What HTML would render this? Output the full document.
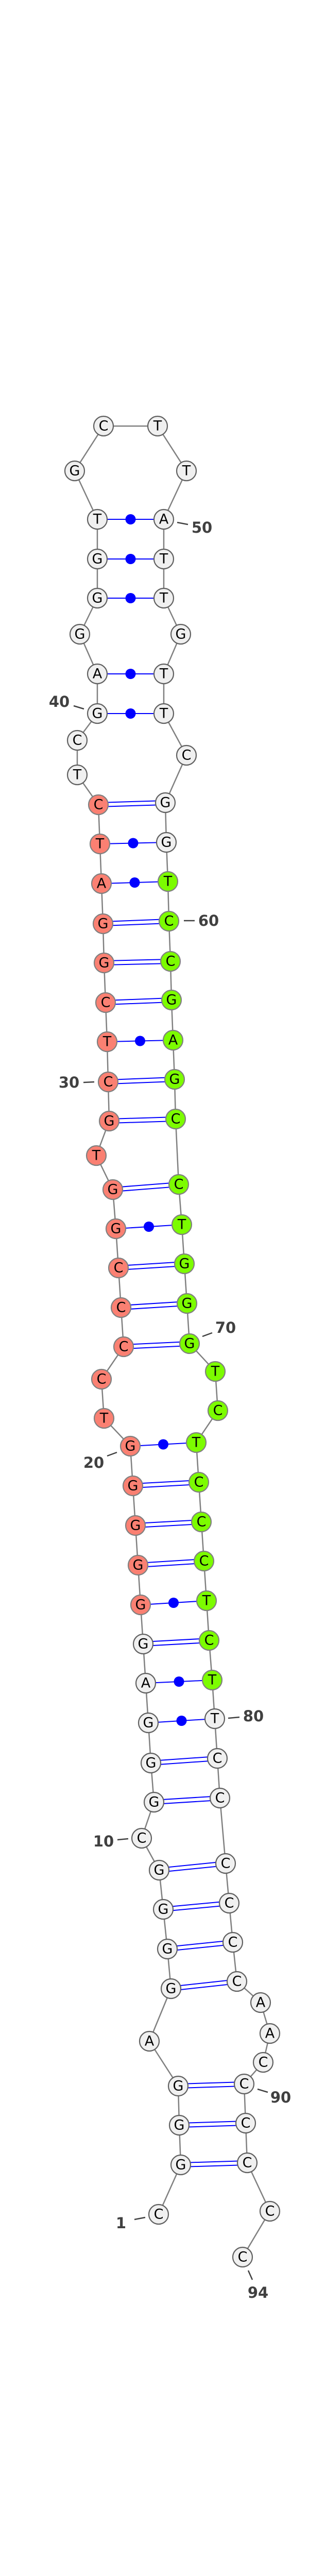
<!DOCTYPE html>
<html><head><meta charset="utf-8"><style>
html,body{margin:0;padding:0;background:#fff;width:600px;height:5157px;overflow:hidden;}
svg{display:block;}
.n circle{stroke-width:2.2;}
.w{fill:#f0f0f0;stroke:#606060;}
.r{fill:#fa8072;stroke:#808080;}
.g{fill:#7cfc00;stroke:#808080;}
.l{font-family:"DejaVu Sans","Liberation Sans",sans-serif;font-size:27px;fill:#000;text-anchor:middle;dominant-baseline:central;}
.num{font-family:"DejaVu Sans","Liberation Sans",sans-serif;font-size:29px;font-weight:bold;fill:#404040;text-anchor:middle;dominant-baseline:central;}
.tk{stroke:#404040;stroke-width:2.5;}
.bp{stroke:#0000ff;stroke-width:2;}
</style></head><body>
<svg width="600" height="5157" viewBox="0 0 600 5157" xmlns="http://www.w3.org/2000/svg">
<polyline fill="none" stroke="#808080" stroke-width="2.5" points="308,4298 351,4202 348,4125 346,4049 290,3962 332,3860 325,3783 317,3706 309,3630 275,3568 299,3498 293,3422 288,3344 283,3267 278,3191 273,3115 268,3038 263,2961 258,2884 253,2807 202,2753 197,2677 240,2614 235,2538 230,2461 225,2385 219,2309 187,2243 212,2176 210,2100 208,2022 205,1946 202,1869 200,1793 197,1715 194,1638 191,1562 150,1504 150,1437 189,1385 189,1308 155,1231 189,1161 189,1085 189,1008 145,914 201,827 306,827 362,914 318,1008 318,1085 318,1161 351,1231 318,1308 318,1385 362,1466 321,1558 323,1635 326,1711 328,1788 331,1866 333,1941 336,2019 339,2095 341,2172 347,2299 353,2377 358,2453 363,2530 368,2608 418,2662 423,2738 381,2800 386,2877 391,2954 396,3030 401,3107 406,3184 412,3261 417,3336 422,3413 427,3490 438,3617 445,3694 452,3770 460,3846 506,3887 524,3947 511,4003 474,4045 477,4121 480,4198 524,4292 471,4381"/>
<g class="bp">
<line x1="351" y1="4198" x2="480" y2="4194"/><line x1="351" y1="4206" x2="480" y2="4202"/>
<line x1="348" y1="4121" x2="477" y2="4117"/><line x1="348" y1="4129" x2="477" y2="4125"/>
<line x1="346" y1="4045" x2="474" y2="4041"/><line x1="346" y1="4053" x2="474" y2="4049"/>
<line x1="332" y1="3856" x2="460" y2="3842"/><line x1="332" y1="3864" x2="460" y2="3850"/>
<line x1="325" y1="3779" x2="452" y2="3766"/><line x1="325" y1="3787" x2="452" y2="3774"/>
<line x1="317" y1="3702" x2="445" y2="3690"/><line x1="317" y1="3710" x2="445" y2="3698"/>
<line x1="309" y1="3626" x2="438" y2="3613"/><line x1="309" y1="3634" x2="438" y2="3621"/>
<line x1="299" y1="3494" x2="427" y2="3486"/><line x1="299" y1="3502" x2="427" y2="3494"/>
<line x1="293" y1="3418" x2="422" y2="3409"/><line x1="293" y1="3426" x2="422" y2="3417"/>
<line x1="278" y1="3187" x2="406" y2="3180"/><line x1="278" y1="3195" x2="406" y2="3188"/>
<line x1="268" y1="3034" x2="396" y2="3026"/><line x1="268" y1="3042" x2="396" y2="3034"/>
<line x1="263" y1="2957" x2="391" y2="2950"/><line x1="263" y1="2965" x2="391" y2="2958"/>
<line x1="258" y1="2880" x2="386" y2="2873"/><line x1="258" y1="2888" x2="386" y2="2881"/>
<line x1="240" y1="2610" x2="368" y2="2604"/><line x1="240" y1="2618" x2="368" y2="2612"/>
<line x1="235" y1="2534" x2="363" y2="2526"/><line x1="235" y1="2542" x2="363" y2="2534"/>
<line x1="230" y1="2457" x2="358" y2="2449"/><line x1="230" y1="2465" x2="358" y2="2457"/>
<line x1="219" y1="2305" x2="347" y2="2295"/><line x1="219" y1="2313" x2="347" y2="2303"/>
<line x1="212" y1="2172" x2="341" y2="2168"/><line x1="212" y1="2180" x2="341" y2="2176"/>
<line x1="210" y1="2096" x2="339" y2="2091"/><line x1="210" y1="2104" x2="339" y2="2099"/>
<line x1="205" y1="1942" x2="333" y2="1937"/><line x1="205" y1="1950" x2="333" y2="1945"/>
<line x1="202" y1="1865" x2="331" y2="1862"/><line x1="202" y1="1873" x2="331" y2="1870"/>
<line x1="200" y1="1789" x2="328" y2="1784"/><line x1="200" y1="1797" x2="328" y2="1792"/>
<line x1="191" y1="1558" x2="321" y2="1554"/><line x1="191" y1="1566" x2="321" y2="1562"/>
<line x1="288" y1="3344" x2="417" y2="3336"/>
<line x1="283" y1="3267" x2="412" y2="3261"/>
<line x1="273" y1="3115" x2="401" y2="3107"/>
<line x1="253" y1="2807" x2="381" y2="2800"/>
<line x1="225" y1="2385" x2="353" y2="2377"/>
<line x1="208" y1="2022" x2="336" y2="2019"/>
<line x1="197" y1="1715" x2="326" y2="1711"/>
<line x1="194" y1="1638" x2="323" y2="1635"/>
<line x1="189" y1="1385" x2="318" y2="1385"/>
<line x1="189" y1="1308" x2="318" y2="1308"/>
<line x1="189" y1="1161" x2="318" y2="1161"/>
<line x1="189" y1="1085" x2="318" y2="1085"/>
<line x1="189" y1="1008" x2="318" y2="1008"/>
</g>
<g fill="#0000ff">
<circle cx="352.5" cy="3340" r="10"/>
<circle cx="347.5" cy="3264" r="10"/>
<circle cx="337" cy="3111" r="10"/>
<circle cx="317" cy="2803.5" r="10"/>
<circle cx="289" cy="2381" r="10"/>
<circle cx="272" cy="2020.5" r="10"/>
<circle cx="261.5" cy="1713" r="10"/>
<circle cx="258.5" cy="1636.5" r="10"/>
<circle cx="253.5" cy="1385" r="10"/>
<circle cx="253.5" cy="1308" r="10"/>
<circle cx="253.5" cy="1161" r="10"/>
<circle cx="253.5" cy="1085" r="10"/>
<circle cx="253.5" cy="1008" r="10"/>
</g>
<g class="n">
<circle class="w" cx="308" cy="4298" r="19"/><text class="l" x="308" y="4298">C</text>
<circle class="w" cx="351" cy="4202" r="19"/><text class="l" x="351" y="4202">G</text>
<circle class="w" cx="348" cy="4125" r="19"/><text class="l" x="348" y="4125">G</text>
<circle class="w" cx="346" cy="4049" r="19"/><text class="l" x="346" y="4049">G</text>
<circle class="w" cx="290" cy="3962" r="19"/><text class="l" x="290" y="3962">A</text>
<circle class="w" cx="332" cy="3860" r="19"/><text class="l" x="332" y="3860">G</text>
<circle class="w" cx="325" cy="3783" r="19"/><text class="l" x="325" y="3783">G</text>
<circle class="w" cx="317" cy="3706" r="19"/><text class="l" x="317" y="3706">G</text>
<circle class="w" cx="309" cy="3630" r="19"/><text class="l" x="309" y="3630">G</text>
<circle class="w" cx="275" cy="3568" r="19"/><text class="l" x="275" y="3568">C</text>
<circle class="w" cx="299" cy="3498" r="19"/><text class="l" x="299" y="3498">G</text>
<circle class="w" cx="293" cy="3422" r="19"/><text class="l" x="293" y="3422">G</text>
<circle class="w" cx="288" cy="3344" r="19"/><text class="l" x="288" y="3344">G</text>
<circle class="w" cx="283" cy="3267" r="19"/><text class="l" x="283" y="3267">A</text>
<circle class="w" cx="278" cy="3191" r="19"/><text class="l" x="278" y="3191">G</text>
<circle class="r" cx="273" cy="3115" r="19"/><text class="l" x="273" y="3115">G</text>
<circle class="r" cx="268" cy="3038" r="19"/><text class="l" x="268" y="3038">G</text>
<circle class="r" cx="263" cy="2961" r="19"/><text class="l" x="263" y="2961">G</text>
<circle class="r" cx="258" cy="2884" r="19"/><text class="l" x="258" y="2884">G</text>
<circle class="r" cx="253" cy="2807" r="19"/><text class="l" x="253" y="2807">G</text>
<circle class="r" cx="202" cy="2753" r="19"/><text class="l" x="202" y="2753">T</text>
<circle class="r" cx="197" cy="2677" r="19"/><text class="l" x="197" y="2677">C</text>
<circle class="r" cx="240" cy="2614" r="19"/><text class="l" x="240" y="2614">C</text>
<circle class="r" cx="235" cy="2538" r="19"/><text class="l" x="235" y="2538">C</text>
<circle class="r" cx="230" cy="2461" r="19"/><text class="l" x="230" y="2461">C</text>
<circle class="r" cx="225" cy="2385" r="19"/><text class="l" x="225" y="2385">G</text>
<circle class="r" cx="219" cy="2309" r="19"/><text class="l" x="219" y="2309">G</text>
<circle class="r" cx="187" cy="2243" r="19"/><text class="l" x="187" y="2243">T</text>
<circle class="r" cx="212" cy="2176" r="19"/><text class="l" x="212" y="2176">G</text>
<circle class="r" cx="210" cy="2100" r="19"/><text class="l" x="210" y="2100">C</text>
<circle class="r" cx="208" cy="2022" r="19"/><text class="l" x="208" y="2022">T</text>
<circle class="r" cx="205" cy="1946" r="19"/><text class="l" x="205" y="1946">C</text>
<circle class="r" cx="202" cy="1869" r="19"/><text class="l" x="202" y="1869">G</text>
<circle class="r" cx="200" cy="1793" r="19"/><text class="l" x="200" y="1793">G</text>
<circle class="r" cx="197" cy="1715" r="19"/><text class="l" x="197" y="1715">A</text>
<circle class="r" cx="194" cy="1638" r="19"/><text class="l" x="194" y="1638">T</text>
<circle class="r" cx="191" cy="1562" r="19"/><text class="l" x="191" y="1562">C</text>
<circle class="w" cx="150" cy="1504" r="19"/><text class="l" x="150" y="1504">T</text>
<circle class="w" cx="150" cy="1437" r="19"/><text class="l" x="150" y="1437">C</text>
<circle class="w" cx="189" cy="1385" r="19"/><text class="l" x="189" y="1385">G</text>
<circle class="w" cx="189" cy="1308" r="19"/><text class="l" x="189" y="1308">A</text>
<circle class="w" cx="155" cy="1231" r="19"/><text class="l" x="155" y="1231">G</text>
<circle class="w" cx="189" cy="1161" r="19"/><text class="l" x="189" y="1161">G</text>
<circle class="w" cx="189" cy="1085" r="19"/><text class="l" x="189" y="1085">G</text>
<circle class="w" cx="189" cy="1008" r="19"/><text class="l" x="189" y="1008">T</text>
<circle class="w" cx="145" cy="914" r="19"/><text class="l" x="145" y="914">G</text>
<circle class="w" cx="201" cy="827" r="19"/><text class="l" x="201" y="827">C</text>
<circle class="w" cx="306" cy="827" r="19"/><text class="l" x="306" y="827">T</text>
<circle class="w" cx="362" cy="914" r="19"/><text class="l" x="362" y="914">T</text>
<circle class="w" cx="318" cy="1008" r="19"/><text class="l" x="318" y="1008">A</text>
<circle class="w" cx="318" cy="1085" r="19"/><text class="l" x="318" y="1085">T</text>
<circle class="w" cx="318" cy="1161" r="19"/><text class="l" x="318" y="1161">T</text>
<circle class="w" cx="351" cy="1231" r="19"/><text class="l" x="351" y="1231">G</text>
<circle class="w" cx="318" cy="1308" r="19"/><text class="l" x="318" y="1308">T</text>
<circle class="w" cx="318" cy="1385" r="19"/><text class="l" x="318" y="1385">T</text>
<circle class="w" cx="362" cy="1466" r="19"/><text class="l" x="362" y="1466">C</text>
<circle class="w" cx="321" cy="1558" r="19"/><text class="l" x="321" y="1558">G</text>
<circle class="w" cx="323" cy="1635" r="19"/><text class="l" x="323" y="1635">G</text>
<circle class="g" cx="326" cy="1711" r="19"/><text class="l" x="326" y="1711">T</text>
<circle class="g" cx="328" cy="1788" r="19"/><text class="l" x="328" y="1788">C</text>
<circle class="g" cx="331" cy="1866" r="19"/><text class="l" x="331" y="1866">C</text>
<circle class="g" cx="333" cy="1941" r="19"/><text class="l" x="333" y="1941">G</text>
<circle class="g" cx="336" cy="2019" r="19"/><text class="l" x="336" y="2019">A</text>
<circle class="g" cx="339" cy="2095" r="19"/><text class="l" x="339" y="2095">G</text>
<circle class="g" cx="341" cy="2172" r="19"/><text class="l" x="341" y="2172">C</text>
<circle class="g" cx="347" cy="2299" r="19"/><text class="l" x="347" y="2299">C</text>
<circle class="g" cx="353" cy="2377" r="19"/><text class="l" x="353" y="2377">T</text>
<circle class="g" cx="358" cy="2453" r="19"/><text class="l" x="358" y="2453">G</text>
<circle class="g" cx="363" cy="2530" r="19"/><text class="l" x="363" y="2530">G</text>
<circle class="g" cx="368" cy="2608" r="19"/><text class="l" x="368" y="2608">G</text>
<circle class="g" cx="418" cy="2662" r="19"/><text class="l" x="418" y="2662">T</text>
<circle class="g" cx="423" cy="2738" r="19"/><text class="l" x="423" y="2738">C</text>
<circle class="g" cx="381" cy="2800" r="19"/><text class="l" x="381" y="2800">T</text>
<circle class="g" cx="386" cy="2877" r="19"/><text class="l" x="386" y="2877">C</text>
<circle class="g" cx="391" cy="2954" r="19"/><text class="l" x="391" y="2954">C</text>
<circle class="g" cx="396" cy="3030" r="19"/><text class="l" x="396" y="3030">C</text>
<circle class="g" cx="401" cy="3107" r="19"/><text class="l" x="401" y="3107">T</text>
<circle class="g" cx="406" cy="3184" r="19"/><text class="l" x="406" y="3184">C</text>
<circle class="g" cx="412" cy="3261" r="19"/><text class="l" x="412" y="3261">T</text>
<circle class="w" cx="417" cy="3336" r="19"/><text class="l" x="417" y="3336">T</text>
<circle class="w" cx="422" cy="3413" r="19"/><text class="l" x="422" y="3413">C</text>
<circle class="w" cx="427" cy="3490" r="19"/><text class="l" x="427" y="3490">C</text>
<circle class="w" cx="438" cy="3617" r="19"/><text class="l" x="438" y="3617">C</text>
<circle class="w" cx="445" cy="3694" r="19"/><text class="l" x="445" y="3694">C</text>
<circle class="w" cx="452" cy="3770" r="19"/><text class="l" x="452" y="3770">C</text>
<circle class="w" cx="460" cy="3846" r="19"/><text class="l" x="460" y="3846">C</text>
<circle class="w" cx="506" cy="3887" r="19"/><text class="l" x="506" y="3887">A</text>
<circle class="w" cx="524" cy="3947" r="19"/><text class="l" x="524" y="3947">A</text>
<circle class="w" cx="511" cy="4003" r="19"/><text class="l" x="511" y="4003">C</text>
<circle class="w" cx="474" cy="4045" r="19"/><text class="l" x="474" y="4045">C</text>
<circle class="w" cx="477" cy="4121" r="19"/><text class="l" x="477" y="4121">C</text>
<circle class="w" cx="480" cy="4198" r="19"/><text class="l" x="480" y="4198">C</text>
<circle class="w" cx="524" cy="4292" r="19"/><text class="l" x="524" y="4292">C</text>
<circle class="w" cx="471" cy="4381" r="19"/><text class="l" x="471" y="4381">C</text>
</g>
<g class="tk">
<line x1="344" y1="1014" x2="365" y2="1018"/>
<line x1="143" y1="1370" x2="163" y2="1376"/>
<line x1="357" y1="1787" x2="378" y2="1787"/>
<line x1="162" y1="2101" x2="183" y2="2100"/>
<line x1="393" y1="2594" x2="412" y2="2587"/>
<line x1="208" y1="2826" x2="227" y2="2819"/>
<line x1="443" y1="3335" x2="465" y2="3333"/>
<line x1="228" y1="3571" x2="249" y2="3569"/>
<line x1="500" y1="4055" x2="520" y2="4061"/>
<line x1="261" y1="4308" x2="282" y2="4304"/>
<line x1="482" y1="4407" x2="490" y2="4425"/>
</g>
<text class="num" x="392" y="1024">50</text>
<text class="num" x="115" y="1362">40</text>
<text class="num" x="405" y="1787">60</text>
<text class="num" x="134" y="2101">30</text>
<text class="num" x="438" y="2577">70</text>
<text class="num" x="182" y="2839">20</text>
<text class="num" x="492" y="3331">80</text>
<text class="num" x="201" y="3574">10</text>
<text class="num" x="545" y="4071">90</text>
<text class="num" x="235" y="4315">1</text>
<text class="num" x="501" y="4450">94</text>
<text x="300" y="5116" font-family="'DejaVu Sans','Liberation Sans',sans-serif" font-size="10" font-weight="bold" text-anchor="middle" dominant-baseline="central" fill="#000">hsa-mir-615_annot [-56.2]</text>
</svg>
</body></html>
